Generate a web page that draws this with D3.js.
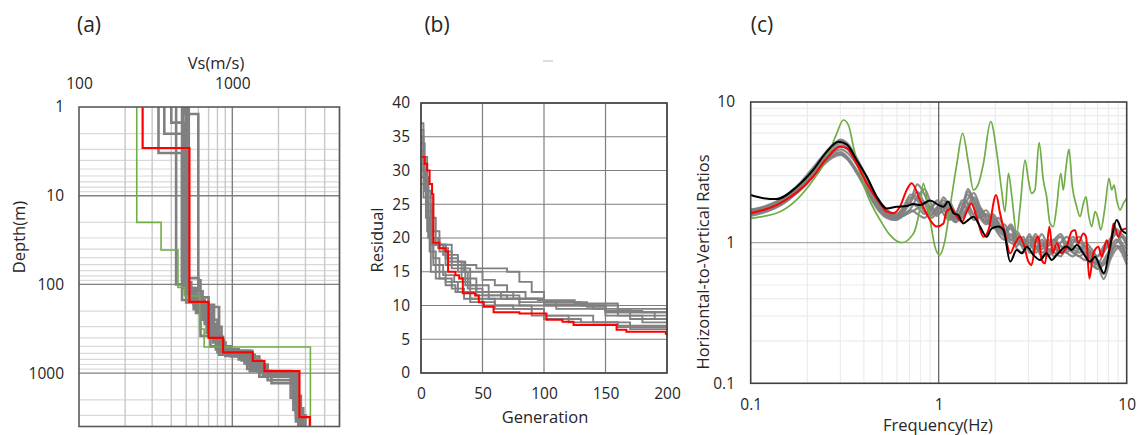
<!DOCTYPE html>
<html>
<head>
<meta charset="utf-8">
<script src="https://d3js.org/d3.v7.min.js"></script>
<style>
  body { margin: 0; background: #fff; }
  text { font-family: "Open Sans", "Noto Sans", sans-serif; fill: #262626; }
  .tick text { font-size: 15.5px; }
  .title { font-size: 16.5px; }
  .plabel { font-size: 21px; }
</style>
</head>
<body>
<svg id="chart" width="1142" height="435"></svg>
<script>
// ---------- (a) Vs profiles: [top depth (m), Vs (m/s)] ----------
var vsTicks = [100, 1000];
var depthTicks = [1, 10, 100, 1000];
var redProfile = [[1,260],[2.9,525],[157,700],[400,870],[585,1360],[730,1620],[950,2740],[3130,3200]];
var greenProfile = [[1,238],[20,343],[41,442],[108,490],[135,612],[318,655],[508,3230]];
var grayProfiles = [
  [[1,330],[3.3,470],[150,620],[380,850],[560,1300],[800,1700],[1000,2700],[2500,2900]],
  [[1,360],[2,480],[110,560],[190,750],[450,900],[600,1250],[900,1600],[1050,2600],[2000,2750]],
  [[1,400],[1.5,490],[130,600],[200,720],[500,980],[650,1500],[1100,2500],[1800,2800]],
  [[1,430],[100,500],[160,680],[350,820],[620,1400],[900,1650],[1000,2650],[3000,3000]],
  [[1,470],[85,600],[120,640],[250,800],[580,1200],[780,1600],[1100,2550],[2200,2700]],
  [[1,490],[1.2,600],[90,620],[140,700],[300,850],[560,1350],[850,1700],[1200,2500],[2600,2850]],
  [[1,500],[120,560],[170,760],[420,880],[600,1150],[720,1550],[1000,2500],[1500,2600],[3200,2900]],
  [[1,520],[140,590],[180,820],[460,900],[640,1300],[950,1800],[1300,2600],[2800,2750]],
  [[1,480],[95,540],[150,660],[280,780],[540,1100],[700,1450],[950,2400],[1900,2700]],
  [[1,505],[110,580],[210,740],[390,870],[590,1250],[820,1700],[1100,2600],[3500,2800]]
];

// ---------- (b) residual vs generation: [generation, residual] ----------
var genTicks = [0, 50, 100, 150, 200];
var resTicks = [0, 5, 10, 15, 20, 25, 30, 35, 40];
var redResidual = [[1,32],[3,31],[5,30],[7,28],[9,26.5],[10,19.3],[15,18.5],[20,18],[22,15],[28,14.5],[31,14],[34,11.8],[44,11.5],[47,10.5],[51,9.8],[59,9],[80,8.8],[102,7.9],[115,7.6],[124,7.1],[155,7.1],[159,6.4],[167,6.1],[199,5.8],[200,5.6]];
var grayResidual = [
  [[0,37],[2,30],[4,25],[6,20],[10,17],[15,14],[25,12.5],[35,11],[50,10],[75,9.5],[100,8.5],[140,7.5],[170,6.5],[200,6.3]],
  [[0,34],[3,28],[6,22],[9,19],[20,17],[30,16],[45,15.5],[70,15],[80,13.5],[90,12],[100,10.5],[130,10],[150,9],[200,8.8]],
  [[0,33],[2,29],[5,24],[8,20],[15,19],[25,16.5],[35,15],[50,13.8],[60,13],[70,12],[85,11],[100,10.2],[140,10],[160,8.5],[200,8]],
  [[0,30],[3,27],[5,21],[8,15],[12,14],[20,13],[28,12],[40,11],[60,10],[90,8.5],[120,7.5],[160,7],[200,7]],
  [[0,28],[2,26],[6,23],[10,19],[18,17.5],[30,16.5],[36,13],[45,11.5],[70,11],[100,10],[140,9.5],[170,8],[200,7.5]],
  [[0,36],[2,32],[5,27],[8,23],[12,19],[20,16],[30,15],[38,12.5],[50,11.5],[80,10.5],[110,10],[150,9],[190,8],[200,7.8]],
  [[0,32],[3,29],[6,26],[10,21],[15,18],[25,15.5],[40,13],[55,12],[75,11],[100,10.5],[135,9.8],[150,9.2],[180,9],[200,9]],
  [[0,31],[2,28],[4,23],[7,18],[12,15],[20,13.5],[30,12],[40,10.5],[60,9.5],[100,8],[130,7.5],[160,6.8],[200,6.5]],
  [[0,35],[2,31],[5,25],[9,20],[14,18.5],[22,16.5],[33,14],[45,12],[65,11],[95,10.8],[125,10.3],[160,9.5],[200,8.5]],
  [[0,29],[3,27],[6,20],[10,16],[18,14.5],[27,13.5],[40,12],[55,11],[80,10],[110,9.5],[150,8.5],[180,7.5],[200,7.2]]
];

// ---------- (c) H/V ratio vs frequency ----------
var freqTicks = [0.1, 1, 10];
var hvTicks = [0.1, 1, 10];
var freqGrid = [0.1,0.12,0.15,0.18,0.21,0.24,0.27,0.3,0.33,0.37,
  0.42,0.47,0.53,0.59,0.65,0.71,0.77,0.84,0.91,0.98,
  1.06,1.14,1.23,1.33,1.43,1.54,1.66,1.79,1.93,2.08,
  2.24,2.42,2.61,2.82,3.04,3.28,3.54,3.82,4.12,4.45,
  4.8,5.18,5.59,6.03,6.5,7.0,7.55,8.15,8.8,9.4,10];
var grayHV = [
  [1.70,1.80,2.10,2.60,3.30,4.10,4.90,5.30,4.90,3.80, 2.70,2.00,1.70,1.55,1.65,1.95,2.30,1.90,1.60,1.75,
   2.00,1.70,1.45,1.80,2.20,1.80,1.50,1.35,1.60,1.40, 1.15,1.30,1.05,0.95,1.15,0.90,1.05,0.85,1.00,1.10,
   0.90,1.05,0.95,0.85,0.75,0.70,0.85,1.00,1.15,1.00,0.90],
  [1.60,1.70,1.95,2.40,3.00,3.70,4.30,4.60,4.30,3.50, 2.60,1.95,1.60,1.50,1.70,2.10,2.00,1.65,1.55,1.80,
   1.90,1.55,1.40,1.70,2.30,2.00,1.60,1.40,1.45,1.25, 1.35,1.10,1.20,1.00,0.95,1.10,0.90,1.00,0.95,0.85,
   1.00,0.90,0.85,0.95,0.80,0.65,0.75,0.90,1.05,0.95,0.80],
  [1.65,1.75,2.00,2.45,3.05,3.80,4.50,4.90,4.60,3.70, 2.80,2.10,1.70,1.50,1.55,1.75,2.10,2.40,1.90,1.60,
   1.70,1.95,1.60,1.50,1.85,2.10,1.70,1.45,1.30,1.50, 1.25,1.05,1.15,0.90,1.05,0.95,0.80,0.95,1.05,0.95,
   0.85,1.00,1.10,0.90,0.80,0.75,0.70,0.85,1.00,1.10,0.95],
  [1.55,1.65,1.90,2.35,2.95,3.65,4.20,4.40,4.00,3.20, 2.40,1.85,1.55,1.45,1.60,1.70,1.60,1.50,1.70,2.00,
   1.75,1.50,1.55,2.00,1.90,1.60,1.75,1.50,1.30,1.20, 1.10,1.00,0.95,1.10,0.85,0.90,1.00,0.80,0.90,0.85,
   0.95,0.85,0.80,0.75,0.85,0.70,0.60,0.80,0.95,0.90,0.75],
  [1.68,1.78,2.05,2.50,3.15,3.95,4.70,5.10,4.70,3.60, 2.60,1.95,1.60,1.55,1.80,2.20,2.10,1.70,1.50,1.65,
   2.10,1.80,1.50,1.65,2.05,2.25,1.80,1.55,1.50,1.35, 1.20,1.25,1.00,1.05,1.00,1.15,0.95,1.05,0.90,1.00,
   1.10,0.95,0.90,1.00,0.90,0.80,0.95,1.05,1.20,1.10,1.00],
  [1.60,1.70,1.95,2.35,2.90,3.55,4.10,4.30,3.90,3.10, 2.30,1.80,1.55,1.50,1.65,1.90,1.80,1.60,1.80,1.90,
   1.60,1.45,1.60,1.90,1.70,1.45,1.60,1.70,1.40,1.15, 1.05,1.15,0.90,0.85,1.00,0.85,0.95,0.90,0.80,0.95,
   0.85,0.80,0.90,0.80,0.70,0.65,0.70,0.85,0.95,0.85,0.70],
  [1.72,1.82,2.10,2.55,3.20,4.00,4.80,5.40,5.00,3.90, 2.80,2.05,1.70,1.60,1.75,2.00,2.60,2.20,1.75,1.70,
   1.85,1.60,1.50,1.75,2.40,1.95,1.55,1.40,1.55,1.30, 1.20,1.35,1.10,1.00,1.10,1.00,1.15,0.95,1.05,1.15,
   1.00,1.10,1.00,0.95,0.85,0.80,0.90,1.05,1.25,1.15,1.05],
  [1.58,1.68,1.92,2.30,2.85,3.50,4.00,4.20,3.85,3.05, 2.25,1.75,1.50,1.45,1.55,1.65,1.75,1.95,1.70,1.55,
   1.80,1.65,1.40,1.55,1.75,1.55,1.50,1.60,1.35,1.25, 1.15,1.05,1.00,0.95,0.90,1.05,0.85,0.90,0.85,0.80,
   0.90,0.85,0.80,0.85,0.75,0.70,0.55,0.75,0.90,0.95,0.80]
];
var redHV = [[0.1,1.62],[0.143,1.90],[0.215,2.95],[0.254,3.98],[0.299,4.81],[0.324,4.69],[0.366,3.66],[0.414,2.64],
  [0.488,1.90],[0.529,1.66],[0.574,1.62],[0.622,1.80],[0.676,2.37],[0.718,2.64],[0.796,2.01],[0.900,1.45],
  [0.976,1.30],[1.06,1.37],[1.10,1.66],[1.17,1.75],[1.25,1.53],[1.33,1.41],[1.41,1.66],[1.49,1.90],[1.59,1.53],
  [1.73,1.10],[1.84,1.23],[2.02,2.18],[2.12,1.62],[2.25,1.16],[2.40,0.84],[2.55,0.99],[2.71,1.10],[2.82,0.99],
  [3.00,0.733],[3.12,0.694],[3.29,1.04],[3.39,1.10],[3.53,0.753],[3.68,0.713],[3.88,1.30],[4.04,0.84],[4.24,0.99],
  [4.51,0.84],[4.79,0.937],[5.10,1.20],[5.31,1.23],[5.53,0.99],[5.88,1.16],[6.08,1.10],[6.33,0.557],[6.65,0.84],
  [7.07,0.937],[7.36,0.795],[7.83,1.04],[8.15,0.887],[8.49,1.37],[9.03,1.10],[9.40,1.23],[10,1.26]];
var blackHV = [[0.1,2.18],[0.117,2.07],[0.137,2.04],[0.176,2.50],[0.215,3.29],[0.254,4.44],[0.293,5.22],[0.324,5.00],
  [0.366,3.87],[0.414,2.95],[0.468,2.12],[0.529,1.75],[0.598,1.80],[0.676,1.82],[0.733,1.88],[0.796,1.85],[0.900,1.99],
  [1.0,1.85],[1.06,1.80],[1.12,1.96],[1.20,1.62],[1.27,1.57],[1.35,1.37],[1.44,1.45],[1.53,1.53],[1.66,1.30],[1.80,1.10],
  [1.91,1.26],[2.08,1.30],[2.21,1.23],[2.40,0.733],[2.60,0.887],[2.76,0.84],[2.94,0.937],[3.19,0.817],[3.46,0.753],
  [3.75,0.84],[3.99,0.753],[4.24,0.817],[4.79,0.937],[5.10,0.887],[5.42,0.962],[5.88,0.84],[6.38,0.733],[6.79,0.795],
  [7.21,0.675],[7.57,0.605],[8.15,0.937],[8.85,1.45],[9.40,1.23],[10,1.16]];
var greenHV = [[0.1,1.49],[0.143,1.66],[0.215,2.79],[0.254,3.98],[0.287,5.99],[0.311,7.45],[0.331,6.86],[0.352,4.81],
  [0.382,3.11],[0.414,2.24],[0.488,1.45],[0.551,1.13],[0.636,1.00],[0.733,1.16],[0.796,1.80],[0.828,2.64],[0.900,1.45],
  [0.955,0.937],[1.01,0.817],[1.08,1.04],[1.15,1.80],[1.25,3.66],[1.34,5.99],[1.44,3.66],[1.53,2.37],[1.63,2.64],
  [1.73,3.66],[1.89,7.25],[2.04,4.32],[2.16,2.37],[2.25,1.66],[2.35,3.11],[2.45,2.12],[2.60,1.16],[2.71,1.80],
  [2.88,3.87],[3.00,2.79],[3.12,2.24],[3.25,2.37],[3.42,5.14],[3.60,2.79],[3.75,2.12],[3.91,1.37],[4.07,1.30],
  [4.24,1.80],[4.46,3.11],[4.60,2.37],[4.76,3.47],[4.93,4.61],[5.14,2.50],[5.42,1.80],[5.65,1.53],[5.88,1.90],
  [6.08,2.12],[6.25,1.62],[6.51,1.30],[6.79,1.66],[7.07,1.45],[7.27,1.23],[7.67,1.80],[8.05,2.87],[8.32,2.37],
  [8.57,2.57],[8.85,2.01],[9.22,1.71],[9.60,1.90],[10,2.07]];

var RED = "#ff0000", GREEN = "#70ad47", GRAY = "#808080", BLACK = "#000000";
var svg = d3.select("#chart");
svg.append("rect").attr("width", 1142).attr("height", 435).attr("fill", "#fff");

function labelAxis(g) {
  g.select(".domain").remove();
  g.selectAll(".tick line").remove();
}

// ===================== (a) =====================
var aX = d3.scaleLog().domain([100, 5000]).range([79, 339.5]);
var aY = d3.scaleLog().domain([1, 4000]).range([107, 426.5]);
var ga = svg.append("g");

ga.selectAll(".hminor").data(aY.ticks().filter(function (d) { return depthTicks.indexOf(d) < 0; }))
  .enter().append("line")
  .attr("x1", aX.range()[0]).attr("x2", aX.range()[1])
  .attr("y1", aY).attr("y2", aY)
  .attr("stroke", "#d9d9d9").attr("stroke-width", 1.2);
ga.selectAll(".vminor").data(aX.ticks().filter(function (d) { return vsTicks.indexOf(d) < 0; }))
  .enter().append("line")
  .attr("x1", aX).attr("x2", aX)
  .attr("y1", aY.range()[0]).attr("y2", aY.range()[1])
  .attr("stroke", "#c8c8c8").attr("stroke-width", 1.4);
ga.selectAll(".hmajor").data(depthTicks.slice(1))
  .enter().append("line")
  .attr("x1", aX.range()[0]).attr("x2", aX.range()[1])
  .attr("y1", aY).attr("y2", aY)
  .attr("stroke", "#808080").attr("stroke-width", 1.4);
ga.append("line").attr("x1", aX(1000)).attr("x2", aX(1000))
  .attr("y1", aY.range()[0]).attr("y2", aY.range()[1])
  .attr("stroke", "#808080").attr("stroke-width", 1.4);

function profilePoints(layers) {
  var pts = [];
  layers.forEach(function (l, i) {
    var bottom = i < layers.length - 1 ? layers[i + 1][0] : 4000;
    pts.push([l[1], l[0]]);
    pts.push([l[1], bottom]);
  });
  return pts;
}
var aLine = d3.line().x(function (d) { return aX(d[0]); }).y(function (d) { return aY(d[1]); });

ga.selectAll(".gprof").data(grayProfiles).enter().append("path")
  .attr("d", function (d) { return aLine(profilePoints(d)); })
  .attr("fill", "none").attr("stroke", GRAY).attr("stroke-width", 2.6);
ga.append("path").attr("d", aLine(profilePoints(greenProfile)))
  .attr("fill", "none").attr("stroke", GREEN).attr("stroke-width", 1.6);
ga.append("path").attr("d", aLine(profilePoints(redProfile)))
  .attr("fill", "none").attr("stroke", RED).attr("stroke-width", 2.2);

ga.append("rect").attr("x", 79).attr("y", 107).attr("width", 260.5).attr("height", 319.5)
  .attr("fill", "none").attr("stroke", "#595959").attr("stroke-width", 1.6);

ga.append("g").attr("transform", "translate(0,89)")
  .call(d3.axisTop(aX).tickValues(vsTicks).tickFormat(d3.format("d")).tickSize(0).tickPadding(0))
  .call(labelAxis);
ga.append("g").attr("transform", "translate(64,0)")
  .call(d3.axisLeft(aY).tickValues(depthTicks).tickFormat(d3.format("d")).tickSize(0).tickPadding(0))
  .call(labelAxis);
ga.append("text").attr("class", "title").attr("x", 216).attr("y", 69).attr("text-anchor", "middle").text("Vs(m/s)");
ga.append("text").attr("class", "title").attr("transform", "translate(25,237) rotate(-90)")
  .attr("text-anchor", "middle").text("Depth(m)");
svg.append("text").attr("class", "plabel").attr("x", 89).attr("y", 32).attr("text-anchor", "middle").text("(a)");

// ===================== (b) =====================
var bX = d3.scaleLinear().domain([0, 200]).range([421, 667]);
var bY = d3.scaleLinear().domain([0, 40]).range([373, 103]);
var gb = svg.append("g");

gb.selectAll(".hg").data(resTicks).enter().append("line")
  .attr("x1", bX.range()[0]).attr("x2", bX.range()[1]).attr("y1", bY).attr("y2", bY)
  .attr("stroke", "#7f7f7f").attr("stroke-width", 1.2);
gb.selectAll(".vg").data(genTicks).enter().append("line")
  .attr("x1", bX).attr("x2", bX).attr("y1", bY.range()[0]).attr("y2", bY.range()[1])
  .attr("stroke", "#7f7f7f").attr("stroke-width", 1.2);

var bLine = d3.line().curve(d3.curveStepAfter)
  .x(function (d) { return bX(d[0]); }).y(function (d) { return bY(d[1]); });
gb.selectAll(".gres").data(grayResidual).enter().append("path")
  .attr("d", bLine).attr("fill", "none").attr("stroke", GRAY).attr("stroke-width", 1.9);
gb.append("path").attr("d", bLine(redResidual))
  .attr("fill", "none").attr("stroke", RED).attr("stroke-width", 2);

gb.append("rect").attr("x", 421).attr("y", 103).attr("width", 246).attr("height", 270)
  .attr("fill", "none").attr("stroke", "#404040").attr("stroke-width", 1.6);

gb.append("g").attr("transform", "translate(0,376)")
  .call(d3.axisBottom(bX).tickValues(genTicks).tickSize(0).tickPadding(12))
  .call(labelAxis);
gb.append("g").attr("transform", "translate(410,0)")
  .call(d3.axisLeft(bY).tickValues(resTicks).tickSize(0).tickPadding(0))
  .call(labelAxis);
gb.append("text").attr("class", "title").attr("x", 545).attr("y", 423).attr("text-anchor", "middle").text("Generation");
gb.append("text").attr("class", "title").attr("transform", "translate(383,240) rotate(-90)")
  .attr("text-anchor", "middle").text("Residual");
svg.append("text").attr("class", "plabel").attr("x", 437).attr("y", 32).attr("text-anchor", "middle").text("(b)");
// small stray dash above panel (b) in the original figure
svg.append("line").attr("x1", 543).attr("x2", 553).attr("y1", 61).attr("y2", 61)
  .attr("stroke", "#d0d0d0").attr("stroke-width", 1.5);

// ===================== (c) =====================
var cX = d3.scaleLog().domain([0.1, 10]).range([750.7, 1126.7]);
var cY = d3.scaleLog().domain([0.1, 10]).range([383.3, 102]);
var gc = svg.append("g");

gc.selectAll(".hm").data(cY.ticks().filter(function (d) { return hvTicks.indexOf(d) < 0; }))
  .enter().append("line")
  .attr("x1", cX.range()[0]).attr("x2", cX.range()[1]).attr("y1", cY).attr("y2", cY)
  .attr("stroke", "#ececec").attr("stroke-width", 1.2);
gc.selectAll(".vm").data(cX.ticks().filter(function (d) { return freqTicks.indexOf(d) < 0; }))
  .enter().append("line")
  .attr("x1", cX).attr("x2", cX).attr("y1", cY.range()[0]).attr("y2", cY.range()[1])
  .attr("stroke", "#ececec").attr("stroke-width", 1.2);
gc.append("line").attr("x1", cX.range()[0]).attr("x2", cX.range()[1]).attr("y1", cY(1)).attr("y2", cY(1))
  .attr("stroke", "#a6a6a6").attr("stroke-width", 1.4);
gc.append("line").attr("x1", cX(1)).attr("x2", cX(1)).attr("y1", cY.range()[0]).attr("y2", cY.range()[1])
  .attr("stroke", "#595959").attr("stroke-width", 1.2);

var cLine = d3.line().curve(d3.curveMonotoneX)
  .x(function (d) { return cX(d[0]); }).y(function (d) { return cY(d[1]); });
gc.selectAll(".ghv").data(grayHV).enter().append("path")
  .attr("d", function (vals) { return cLine(vals.map(function (v, i) { return [freqGrid[i], v]; })); })
  .attr("fill", "none").attr("stroke", GRAY).attr("stroke-width", 2.2).attr("stroke-opacity", 0.9);
gc.append("path").attr("d", cLine(greenHV)).attr("fill", "none").attr("stroke", GREEN).attr("stroke-width", 1.7);
gc.append("path").attr("d", cLine(redHV)).attr("fill", "none").attr("stroke", RED).attr("stroke-width", 2);
gc.append("path").attr("d", cLine(blackHV)).attr("fill", "none").attr("stroke", BLACK).attr("stroke-width", 2);

gc.append("rect").attr("x", 750.7).attr("y", 102).attr("width", 376).attr("height", 281.3)
  .attr("fill", "none").attr("stroke", "#404040").attr("stroke-width", 1.6);

gc.append("g").attr("transform", "translate(0,387)")
  .call(d3.axisBottom(cX).tickValues(freqTicks).tickFormat(d3.format("~g")).tickSize(0).tickPadding(12))
  .call(labelAxis);
gc.append("g").attr("transform", "translate(735,0)")
  .call(d3.axisLeft(cY).tickValues(hvTicks).tickFormat(d3.format("~g")).tickSize(0).tickPadding(0))
  .call(labelAxis);
gc.append("text").attr("class", "title").attr("x", 938).attr("y", 431).attr("text-anchor", "middle").text("Frequency(Hz)");
gc.append("text").attr("class", "title").attr("transform", "translate(709,262) rotate(-90)")
  .attr("text-anchor", "middle").text("Horizontal-to-Vertical Ratios");
svg.append("text").attr("class", "plabel").attr("x", 762).attr("y", 32).attr("text-anchor", "middle").text("(c)");
</script>
</body>
</html>
